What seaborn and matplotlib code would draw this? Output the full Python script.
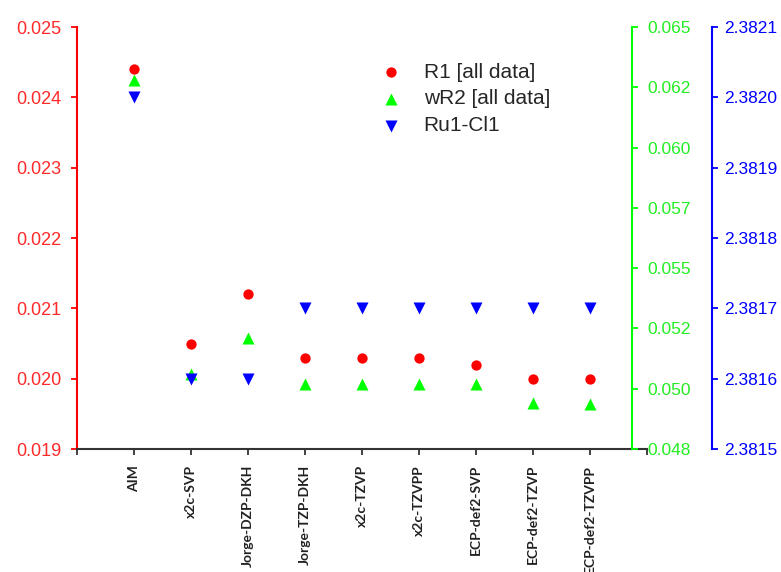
import numpy as np
import seaborn as sns
import matplotlib
matplotlib.use('Agg')
import matplotlib.pyplot as plt

sns.set_style('white')
plt.rcParams['font.family'] = ['Liberation Sans', 'DejaVu Sans']

# 数据
methods = ['AIM', 'x2c-SVP', 'Jorge-DZP-DKH', 'Jorge-TZP-DKH', 'x2c-TZVP',
           'x2c-TZVPP', 'ECP-def2-SVP', 'ECP-def2-TZVP', 'ECP-def2-TZVPP']
r1 = [0.0244, 0.0205, 0.0212, 0.0203, 0.0203, 0.0203, 0.0202, 0.0200, 0.0200]
wr2 = [0.0628, 0.0506, 0.0521, 0.0502, 0.0502, 0.0502, 0.0502, 0.0494, 0.04935]
ru_cl = [2.3820, 2.3816, 2.3816, 2.3817, 2.3817, 2.3817, 2.3817, 2.3817, 2.3817]

r1_ticks = [0.019, 0.020, 0.021, 0.022, 0.023, 0.024, 0.025]
r1_labels = ['0.019', '0.020', '0.021', '0.022', '0.023', '0.024', '0.025']
wr2_ticks = [0.0475, 0.0500, 0.0525, 0.0550, 0.0575, 0.0600, 0.0625, 0.0650]
wr2_labels = ['0.048', '0.050', '0.052', '0.055', '0.057', '0.060', '0.062', '0.065']
ru_ticks = [2.3815, 2.3816, 2.3817, 2.3818, 2.3819, 2.3820, 2.3821]
ru_labels = ['2.3815', '2.3816', '2.3817', '2.3818', '2.3819', '2.3820', '2.3821']

RED = '#ff0000'
GREEN = '#00ff00'
BLUE = '#0000ff'
RED_TXT = '#ff2a2a'
GREEN_TXT = '#22ee22'

x = np.arange(1, len(methods) + 1)

fig = plt.figure(figsize=(7.81, 5.72), dpi=100)
ax = fig.add_axes([77 / 781, 1 - 449 / 572, 570 / 781, 422 / 572])
ax_g = ax.twinx()
ax_b = ax.twinx()

sns.scatterplot(x=x, y=r1, ax=ax, color=RED, marker='o', s=55, linewidth=0,
                label='R1 [all data]')
sns.scatterplot(x=x, y=wr2, ax=ax_g, color=GREEN, marker='^', s=75, linewidth=0,
                label='wR2 [all data]')
sns.scatterplot(x=x, y=ru_cl, ax=ax_b, color=BLUE, marker='v', s=75, linewidth=0,
                label='Ru1-Cl1')

# 主坐标轴（左，红色）
ax.set_xlim(0, 10)
ax.set_ylim(0.019, 0.025)
ax.set_xticks(range(0, 11))
ax.set_xticklabels([''] + methods + [''], rotation=90, fontweight='bold',
                   fontsize=10, family=['Lato', 'DejaVu Sans'], color='#222222')
ax.set_yticks(r1_ticks)
ax.set_yticklabels(r1_labels)
for s in ['top', 'right']:
    ax.spines[s].set_visible(False)
ax.spines['left'].set_color(RED)
ax.spines['left'].set_linewidth(1.5)
ax.spines['bottom'].set_color('#333333')
ax.spines['bottom'].set_linewidth(1.5)
ax.tick_params(axis='y', colors=RED, length=4, width=1.3, pad=7, left=True,
               labelcolor=RED_TXT, labelsize=13)
ax.tick_params(axis='x', colors='#333333', length=4.5, width=1.3, pad=7, bottom=True,
               labelcolor='#222222')

# 第二坐标轴（绿色）
ax_g.set_ylim(0.0475, 0.065)
ax_g.set_yticks(wr2_ticks)
ax_g.set_yticklabels(wr2_labels)
for s in ['top', 'left', 'bottom']:
    ax_g.spines[s].set_visible(False)
ax_g.spines['right'].set_position(('axes', 0.974))
ax_g.spines['right'].set_color(GREEN)
ax_g.spines['right'].set_linewidth(1.5)
ax_g.tick_params(axis='y', colors=GREEN, length=4, width=1.3, pad=7, right=True,
                 labelcolor=GREEN_TXT, labelsize=12.5)

# 第三坐标轴（蓝色）
ax_b.set_ylim(2.3815, 2.3821)
ax_b.set_yticks(ru_ticks)
ax_b.set_yticklabels(ru_labels)
for s in ['top', 'left', 'bottom']:
    ax_b.spines[s].set_visible(False)
ax_b.spines['right'].set_position(('axes', 1.114))
ax_b.spines['right'].set_color(BLUE)
ax_b.spines['right'].set_linewidth(1.5)
ax_b.tick_params(axis='y', colors=BLUE, length=4, width=1.3, pad=5, right=True,
                 labelsize=12.5)

for a in (ax, ax_g, ax_b):
    a.set_xlabel('')
    a.set_ylabel('')
    a.grid(False)

# 图例
handles, labels = [], []
for a in (ax, ax_g, ax_b):
    h, l = a.get_legend_handles_labels()
    handles += h
    labels += l
    if a.get_legend() is not None:
        a.get_legend().remove()
fig.legend(handles, labels, loc='upper left', bbox_to_anchor=(357 / 781, 1 - 44 / 572),
           bbox_transform=fig.transFigure, frameon=False, fontsize=15,
           labelspacing=0.37, handlelength=1.5, handletextpad=0.8)

fig.savefig('out.png', dpi=100)
